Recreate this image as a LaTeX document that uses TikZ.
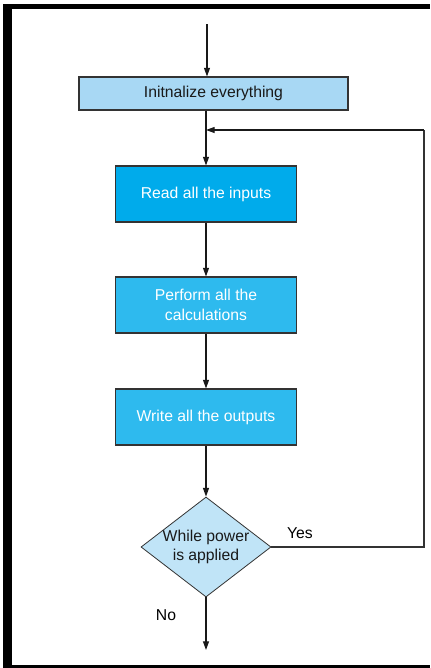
\documentclass[tikz,border=0pt]{standalone}
\usepackage{fontspec}
\setmainfont{Liberation Sans}
\usetikzlibrary{shapes.geometric,arrows.meta}
\definecolor{initblue}{HTML}{A8D8F4}
\definecolor{readblue}{HTML}{00ABEB}
\definecolor{stepblue}{HTML}{2EBAEE}
\definecolor{askblue}{HTML}{C0E4F7}
\definecolor{edge}{HTML}{333333}
\begin{document}
\begin{tikzpicture}
  [x=0.75pt,y=-0.75pt,font=\fontsize{11.8}{14.5}\selectfont,
   flow/.style={draw=black!90,line width=0.8pt,-{Triangle[length=6.5pt,width=4.5pt]}},
   wire/.style={draw=edge,line width=0.8pt},
   every node/.style={inner sep=0pt,align=center},
   box/.style={rectangle,draw=edge,line width=0.8pt,minimum width=135.75pt,minimum height=42pt,text=white},
   ask/.style={diamond,draw=edge,line width=0.6pt,fill=askblue,minimum width=97.5pt,minimum height=75pt}]
  \useasboundingbox (0,0) rectangle (430,668);
  % frame
  \fill[black] (3,4) rectangle (12,668);
  \fill[black] (3,4) rectangle (430,9);
  \fill[black] (3,665) rectangle (430,668);

  \node[box,fill=initblue,text=black!90,minimum width=201.75pt,minimum height=24.75pt] (init) at (213.5,93.5) {Initnalize everything};
  \node[box,fill=readblue] (read) at (206,194) {Read all the inputs};
  \node[box,fill=stepblue] (perform) at (206,305) {Perform all the\\calculations};
  \node[box,fill=stepblue] (write) at (206,417) {Write all the outputs};
  \node[ask] (dec) at (206,547) {};
  \node[text=black!90] (dectext) at (dec) {While power\\is applied};
  \node (yes) at (300,533) {Yes};
  \node (no) at (166,615) {No};

  \coordinate (start) at (207,24);
  \coordinate (loop) at (424,130);
  \coordinate (stop) at (206,650);

  \draw[flow] (start) -- (start |- init.north);
  \draw[flow] (init.south -| read) -- (read);
  \foreach \from/\to in {read/perform,perform/write,write/dec}
    \draw[flow] (\from) -- (\to);
  \draw[wire] (dec.east) -| (loop);
  \draw[flow] (loop) -- (loop -| read);
  \draw[flow] (dec.south) -- (stop);
\end{tikzpicture}
\end{document}
